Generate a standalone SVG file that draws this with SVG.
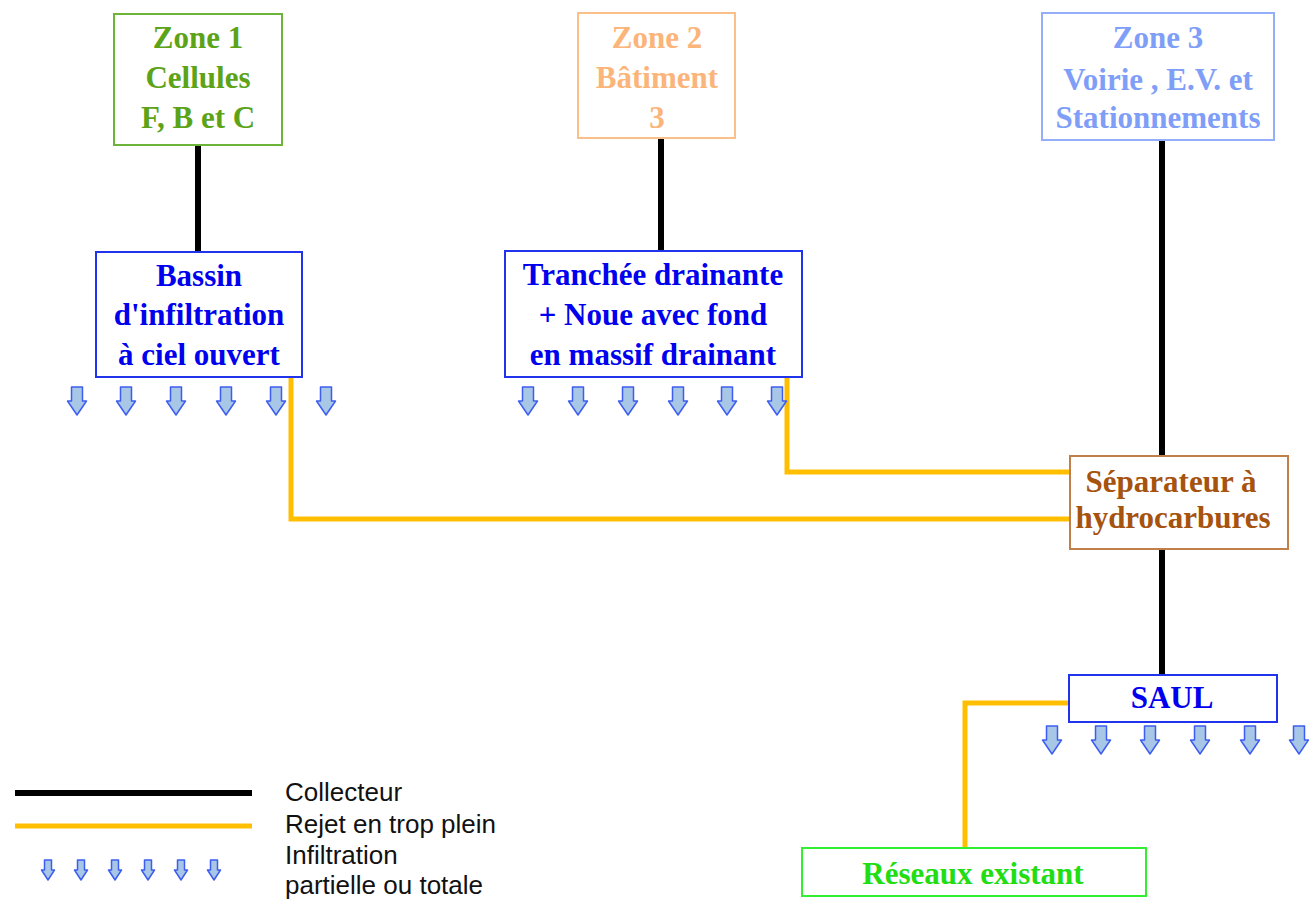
<svg xmlns="http://www.w3.org/2000/svg" xmlns:xlink="http://www.w3.org/1999/xlink" width="1309" height="901" viewBox="0 0 1309 901">
<style>
.box{fill:#fff;stroke-width:2}
.t{font-family:"Liberation Serif","Times New Roman",serif;font-weight:bold;font-size:31px;text-anchor:middle}
.col{stroke:#000;stroke-width:6;fill:none}
.rej{stroke:#ffbf00;stroke-width:5;fill:none}
.leg{font-family:"Liberation Sans",Arial,sans-serif;font-size:26px;fill:#111}
.arr{fill:#a8c6e6;stroke:#3d5df0;stroke-width:1.5;stroke-linejoin:round}
</style>
<defs>
<path id="arr" class="arr" d="M-5.5,0 H5.5 V14 H9.5 L0,28 L-9.5,14 H-5.5 Z"/>
<path id="arrs" class="arr" d="M-3.5,0 H3.5 V10 H6.5 L0,20 L-6.5,10 H-3.5 Z"/>
</defs>
<rect width="1309" height="901" fill="#fff"/>
<g id="connectors">
<line class="col" x1="198" y1="145" x2="198" y2="252"/>
<line class="col" x1="661" y1="138" x2="661" y2="251"/>
<line class="col" x1="1162" y1="140" x2="1162" y2="456"/>
<line class="col" x1="1162" y1="549" x2="1162" y2="675"/>
<polyline class="rej" points="291,377 291,519 1070,519"/>
<polyline class="rej" points="787,377 787,472 1070,472"/>
<polyline class="rej" points="1069,703 965,703 965,848"/>
</g>
<g id="zone1">
<rect class="box" x="114" y="14" width="168" height="131" stroke="#6cb33a"/>
<text class="t" fill="#5ca318" x="198" y="48">Zone 1</text>
<text class="t" fill="#5ca318" x="198" y="88">Cellules</text>
<text class="t" fill="#5ca318" x="198" y="128">F, B et C</text>
</g>
<g id="zone2">
<rect class="box" x="578" y="13" width="157" height="125" stroke="#fbc08a"/>
<text class="t" fill="#fbb57a" x="657" y="48">Zone 2</text>
<text class="t" fill="#fbb57a" x="657" y="88">Bâtiment</text>
<text class="t" fill="#fbb57a" x="657" y="128">3</text>
</g>
<g id="zone3">
<rect class="box" x="1042" y="13" width="232" height="127" stroke="#94aefa"/>
<text class="t" fill="#7f9ef7" x="1158" y="48">Zone 3</text>
<text class="t" fill="#7f9ef7" x="1158" y="90">Voirie , E.V. et</text>
<text class="t" fill="#7f9ef7" x="1158" y="128">Stationnements</text>
</g>
<g id="bassin">
<rect class="box" x="96" y="252" width="206" height="125" stroke="#2233ee"/>
<text class="t" fill="#0000ee" x="199" y="286">Bassin</text>
<text class="t" fill="#0000ee" x="199" y="325">d'infiltration</text>
<text class="t" fill="#0000ee" x="199" y="365">à ciel ouvert</text>
<use xlink:href="#arr" x="77" y="387"/>
<use xlink:href="#arr" x="126" y="387"/>
<use xlink:href="#arr" x="176" y="387"/>
<use xlink:href="#arr" x="226" y="387"/>
<use xlink:href="#arr" x="276" y="387"/>
<use xlink:href="#arr" x="326" y="387"/>
</g>
<g id="tranchee">
<rect class="box" x="505" y="251" width="297" height="126" stroke="#2233ee"/>
<text class="t" fill="#0000ee" x="653" y="285">Tranchée drainante</text>
<text class="t" fill="#0000ee" x="653" y="325">+ Noue avec fond</text>
<text class="t" fill="#0000ee" x="653" y="365">en massif drainant</text>
<use xlink:href="#arr" x="528" y="387"/>
<use xlink:href="#arr" x="578" y="387"/>
<use xlink:href="#arr" x="628" y="387"/>
<use xlink:href="#arr" x="678" y="387"/>
<use xlink:href="#arr" x="727" y="387"/>
<use xlink:href="#arr" x="777" y="387"/>
</g>
<g id="separateur">
<rect class="box" x="1070" y="456" width="218" height="93" stroke="#c0804a"/>
<text class="t" fill="#a5530e" x="1171" y="492">Séparateur à</text>
<text class="t" fill="#a5530e" x="1173" y="528">hydrocarbures</text>
</g>
<g id="saul">
<rect class="box" x="1069" y="675" width="208" height="47" stroke="#2233ee"/>
<text class="t" fill="#0000ee" x="1172" y="708">SAUL</text>
<use xlink:href="#arr" x="1052" y="726"/>
<use xlink:href="#arr" x="1101" y="726"/>
<use xlink:href="#arr" x="1150" y="726"/>
<use xlink:href="#arr" x="1200" y="726"/>
<use xlink:href="#arr" x="1250" y="726"/>
<use xlink:href="#arr" x="1299" y="726"/>
</g>
<g id="reseaux">
<rect class="box" x="802" y="848" width="344" height="48" stroke="#33ee33"/>
<text class="t" fill="#22dd11" x="973" y="884">Réseaux existant</text>
</g>
<g id="legend">
<line class="col" x1="15" y1="793" x2="252" y2="793"/>
<line class="rej" x1="15" y1="826" x2="252" y2="826"/>
<use xlink:href="#arrs" x="48" y="860"/>
<use xlink:href="#arrs" x="81" y="860"/>
<use xlink:href="#arrs" x="115" y="860"/>
<use xlink:href="#arrs" x="148" y="860"/>
<use xlink:href="#arrs" x="181" y="860"/>
<use xlink:href="#arrs" x="214" y="860"/>
<text class="leg" x="285" y="801">Collecteur</text>
<text class="leg" x="285" y="833">Rejet en trop plein</text>
<text class="leg" x="285" y="864">Infiltration</text>
<text class="leg" x="285" y="894">partielle ou totale</text>
</g>
</svg>
